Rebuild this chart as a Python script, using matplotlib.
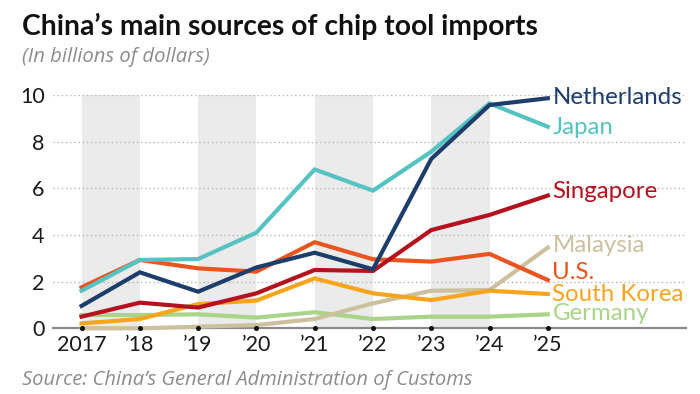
import matplotlib.pyplot as plt

years = [2017, 2018, 2019, 2020, 2021, 2022, 2023, 2024, 2025]
year_labels = ["2017", "\u201918", "\u201919", "\u201920", "\u201921", "\u201922", "\u201923", "\u201924", "\u201925"]

netherlands = [0.96, 2.40, 1.57, 2.61, 3.24, 2.53, 7.26, 9.57, 9.86]
japan = [1.61, 2.93, 2.97, 4.10, 6.81, 5.90, 7.57, 9.64, 8.64]
singapore = [0.50, 1.10, 0.89, 1.50, 2.50, 2.46, 4.21, 4.86, 5.69]
malaysia = [0.00, 0.00, 0.07, 0.14, 0.40, 1.07, 1.61, 1.64, 3.46]
us = [1.76, 2.93, 2.57, 2.43, 3.69, 2.96, 2.86, 3.19, 2.07]
south_korea = [0.21, 0.40, 1.04, 1.19, 2.14, 1.50, 1.21, 1.61, 1.47]
germany = [0.57, 0.57, 0.60, 0.46, 0.69, 0.40, 0.50, 0.50, 0.60]

# name, values, colour, label y
series = [
    ("Germany", germany, "#a9d48a", 0.62),
    ("Malaysia", malaysia, "#cbc19f", 3.55),
    ("South Korea", south_korea, "#f8a51d", 1.45),
    ("U.S.", us, "#e9541f", 2.38),
    ("Singapore", singapore, "#b3121f", 5.85),
    ("Japan", japan, "#55c3c1", 8.6),
    ("Netherlands", netherlands, "#1d3d6b", 9.9),
]

plt.rcParams['font.family'] = ['Lato', 'DejaVu Sans']

fig = plt.figure(figsize=(7, 3.94), dpi=100)
ax = fig.add_axes([0.0757, 0.1667, 0.905, 0.5922])

ax.set_xlim(2016.51, 2027.38)
ax.set_ylim(0, 10)

# grey bands
for start in [2017, 2019, 2021, 2023]:
    ax.axvspan(start, start + 1, color="#ebebeb", lw=0, zorder=0)

for y in [2, 4, 6, 8, 10]:
    ax.axhline(y, color="#b5b5b5", lw=1.0, ls=(0, (1, 2)), zorder=1)

for name, vals, col, ly in series:
    ax.plot(years, vals, color=col, lw=3.0, zorder=3, clip_on=False,
            solid_joinstyle="miter")
    ax.text(years[-1] + 0.08, ly, name, color=col, fontsize=17.3,
            va="center", ha="left")

for s in ax.spines.values():
    s.set_visible(False)
ax.axhline(0, color="#8a8a8a", lw=1.6, zorder=2, clip_on=False)
ax.plot(years, [0] * len(years), "o", color="#111111", ms=2.6, zorder=4, clip_on=False)

ax.set_xticks(years)
ax.set_xticklabels(year_labels)
ax.set_yticks([0, 2, 4, 6, 8, 10])
ax.tick_params(length=0, labelsize=15.5, colors="#1a1a1a")
ax.tick_params(axis="y", pad=6)
ax.tick_params(axis="x", pad=5)

fig.text(0.031, 0.911, "China\u2019s main sources of chip tool imports",
         fontsize=20.3, fontweight="bold", color="#111111", va="baseline")
fig.text(0.031, 0.843, "(In billions of dollars)", fontsize=14.6,
         style="italic", color="#8c8c8c", va="baseline",
         family=["Open Sans", "DejaVu Sans"])
fig.text(0.031, 0.023, "Source: China\u2019s General Administration of Customs",
         fontsize=14.5, style="italic", color="#8c8c8c", va="baseline",
         family=["Open Sans", "DejaVu Sans"])

fig.savefig("out.png", dpi=100)
